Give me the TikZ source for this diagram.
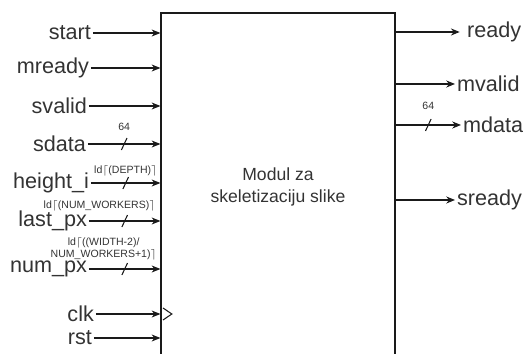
\documentclass[tikz,border=0pt]{standalone}
\usepackage{fontspec}
\setmainfont{Liberation Sans}
\usetikzlibrary{arrows.meta, positioning}

\definecolor{txtgray}{HTML}{333333}
\definecolor{wire}{HTML}{1A1A1A}

\begin{document}
\begin{tikzpicture}[
    x=0.02cm, y=-0.02cm,
    every node/.style={font=\fontsize{12.3}{14}\selectfont, text=txtgray},
    portlbl/.style={inner sep=1pt},
    buslbl/.style={font=\fontsize{6}{6.5}\selectfont, inner sep=0pt, align=center},
    modbox/.style={draw=wire, line width=0.7pt, minimum width=4.68cm, minimum height=6.96cm,
        font=\fontsize{10}{12}\selectfont, align=center},
    sig/.style={-{Stealth[length=5pt, width=4pt]}, draw=wire, line width=0.6pt},
    busmark/.style={inner sep=0pt, minimum size=0pt}
]
\clip (0,0) rectangle (529,354);

% ============ MODULE ============
\node[modbox] (box) at (278,187) {Modul za\\skeletizaciju slike};

% ============ INPUTS ============
\node[portlbl, anchor=east] (start)   at (93,33)  {start};
\node[portlbl, anchor=east] (mready)  at (91,68)  {mready};
\node[portlbl, anchor=east] (svalid)  at (89,106) {svalid};
\node[portlbl, anchor=east] (sdata)   at (88,144) {sdata};
\node[portlbl, anchor=east] (heighti) at (91,183) {height\_i};
\node[portlbl, anchor=east] (lastpx)  at (89,221) {last\_px};
\node[portlbl, anchor=east] (numpx)   at (89,269) {num\_px};
\node[portlbl, anchor=east] (clk)     at (96,314) {clk};
\node[portlbl, anchor=east] (rst)     at (94,338) {rst};

\draw[sig] (start.east) -- (start.east -| box.west);
\draw[sig] (mready.east) -- (mready.east -| box.west);
\draw[sig] (svalid.east) -- (svalid.east -| box.west);
\draw[sig] (sdata.east) -- node[busmark] (sdatabus) {} (sdata.east -| box.west);
\draw[sig] (heighti.east) -- node[busmark] (heightbus) {} (heighti.east -| box.west);
\draw[sig] (lastpx.east) -- node[busmark] (lastbus) {} (lastpx.east -| box.west);
\draw[sig] (numpx.east) -- node[busmark] (numbus) {} (numpx.east -| box.west);
\draw[sig] (clk.east) -- (clk.east -| box.west);
\draw[sig] (rst.east) -- (rst.east -| box.west);

% clock mark
\draw[wire, line width=0.6pt] ([xshift=1.5pt, yshift=3.4pt]clk.east -| box.west)
    -- ([xshift=6.5pt]clk.east -| box.west) -- ([xshift=1.5pt, yshift=-3.4pt]clk.east -| box.west);

% ============ OUTPUTS ============
\node[portlbl, anchor=west] (ready)  at (465,32)  {ready};
\node[portlbl, anchor=west] (mvalid) at (455,84)  {mvalid};
\node[portlbl, anchor=west] (mdata)  at (461,125) {mdata};
\node[portlbl, anchor=west] (sready) at (455,200) {sready};

\draw[sig] (ready.west -| box.east) -- ([xshift=-3pt]ready.west);
\draw[sig] (mvalid.west -| box.east) -- (mvalid.west);
\draw[sig] (mdata.west -| box.east) -- node[busmark] (mdatabus) {} (mdata.west);
\draw[sig] (sready.west -| box.east) -- (sready.west);

% ============ BUS WIDTHS ============
\foreach \b in {sdatabus, heightbus, lastbus, numbus, mdatabus}
    \draw[wire, line width=0.6pt] ([xshift=-1.6pt, yshift=-3.4pt]\b.center) -- ([xshift=1.6pt, yshift=3.4pt]\b.center);

\node[buslbl] at ([yshift=17*0.02cm]sdatabus.center) {64};
\node[buslbl] at ([yshift=19*0.02cm]mdatabus.center) {64};
\node[buslbl] at ([yshift=12*0.02cm]heightbus.center) {ld$\lceil$(DEPTH)$\rceil$};
\node[buslbl, anchor=east] at ([xshift=31*0.02cm, yshift=15*0.02cm]lastbus.center) {ld$\lceil$(NUM\_WORKERS)$\rceil$};
\node[buslbl, anchor=south] at ([xshift=-21*0.02cm, yshift=9*0.02cm]numbus.center) {ld$\lceil$((WIDTH-2)/\\NUM\_WORKERS+1)$\rceil$};

\end{tikzpicture}
\end{document}
